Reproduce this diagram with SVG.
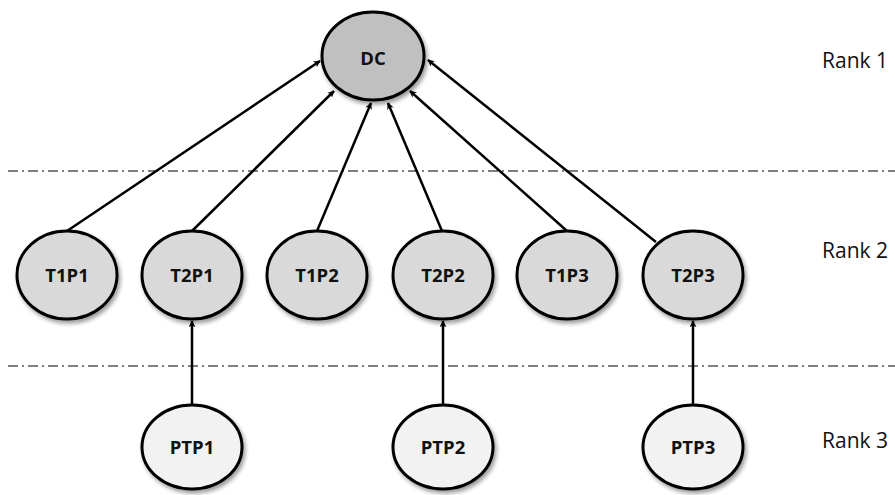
<svg xmlns="http://www.w3.org/2000/svg" width="895" height="495" viewBox="0 0 895 495">
<defs>
<marker id="ah" viewBox="0 0 10 10" refX="9" refY="5" markerWidth="7" markerHeight="7" markerUnits="userSpaceOnUse" orient="auto">
<path d="M0,0 L10,5 L0,10 L3,5 Z" fill="#000"/>
</marker>
<filter id="sh" x="-20%" y="-20%" width="150%" height="150%">
<feGaussianBlur in="SourceAlpha" stdDeviation="2"/>
<feOffset dx="2" dy="3" result="o"/>
<feComponentTransfer><feFuncA type="linear" slope="0.4"/></feComponentTransfer>
<feMerge><feMergeNode/><feMergeNode in="SourceGraphic"/></feMerge>
</filter>
<style>
.n ellipse{stroke:#000;stroke-width:3;filter:url(#sh)}
.r1{fill:#c0c0c0}.r2{fill:#d9d9d9}.r3{fill:#f2f2f2}
.n text{font-family:"Open Sans","Liberation Sans",sans-serif;font-weight:bold;font-size:18.5px;fill:#111;text-anchor:middle}
.lbl{font-family:"Open Sans","Liberation Sans",sans-serif;font-size:21px;fill:#111}
.sep{stroke:#555;stroke-width:1.5;stroke-dasharray:10 4 2 4;fill:none}
#edges line{stroke:#000;stroke-width:2.5;marker-end:url(#ah)}
</style>
</defs>
<rect width="895" height="495" fill="#fff"/>
<line class="sep" x1="8" y1="171" x2="895" y2="171"/>
<line class="sep" x1="8" y1="366" x2="895" y2="366"/>
<text class="lbl" x="822" y="68">Rank 1</text>
<text class="lbl" x="822" y="258">Rank 2</text>
<text class="lbl" x="822" y="448">Rank 3</text>
<g id="edges">
<line x1="67" y1="231" x2="320" y2="61"/>
<line x1="192" y1="231" x2="334" y2="91"/>
<line x1="317" y1="231" x2="371" y2="103"/>
<line x1="442" y1="231" x2="388" y2="103"/>
<line x1="567" y1="231" x2="410" y2="91"/>
<line x1="656" y1="242" x2="428" y2="60"/>
<line x1="192" y1="405" x2="192" y2="321"/>
<line x1="443" y1="405" x2="443" y2="321"/>
<line x1="693" y1="405" x2="693" y2="321"/>
</g>
<g id="DC" class="n"><ellipse class="r1" cx="373" cy="56" rx="51" ry="44"/><text x="373" y="65">DC</text></g>
<g id="T1P1" class="n"><ellipse class="r2" cx="67" cy="275" rx="50" ry="44"/><text x="67" y="282">T1P1</text></g>
<g id="T2P1" class="n"><ellipse class="r2" cx="192" cy="275" rx="50" ry="44"/><text x="192" y="282">T2P1</text></g>
<g id="T1P2" class="n"><ellipse class="r2" cx="317" cy="275" rx="50" ry="44"/><text x="317" y="282">T1P2</text></g>
<g id="T2P2" class="n"><ellipse class="r2" cx="443" cy="275" rx="50" ry="44"/><text x="443" y="282">T2P2</text></g>
<g id="T1P3" class="n"><ellipse class="r2" cx="567" cy="275" rx="50" ry="44"/><text x="567" y="282">T1P3</text></g>
<g id="T2P3" class="n"><ellipse class="r2" cx="693" cy="275" rx="50" ry="44"/><text x="693" y="282">T2P3</text></g>
<g id="PTP1" class="n"><ellipse class="r3" cx="192" cy="447" rx="50" ry="42"/><text x="192" y="454">PTP1</text></g>
<g id="PTP2" class="n"><ellipse class="r3" cx="443" cy="447" rx="50" ry="42"/><text x="443" y="454">PTP2</text></g>
<g id="PTP3" class="n"><ellipse class="r3" cx="693" cy="447" rx="50" ry="42"/><text x="693" y="454">PTP3</text></g>
</svg>
